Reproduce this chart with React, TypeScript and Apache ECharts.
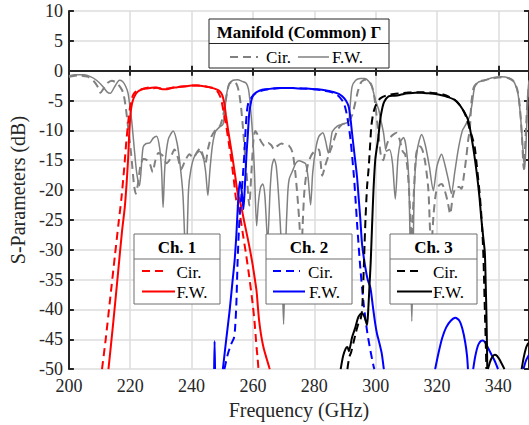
import React, { useEffect, useRef } from "react";
import * as echarts from "echarts";

// ---------- data (frequency GHz, S-parameter dB) ----------
const xRange = [200, 350];
const yRange = [-50, 10];
const xTickStep = 20;
const yTickStep = 5;
const xAxisTitle = "Frequency (GHz)";
const yAxisTitle = "S-Parameters (dB)";
const legendTitles = ["Manifold (Common) \u0393", "Ch. 1", "Ch. 2", "Ch. 3"];
const legendItems = ["Cir.", "F.W."];

const grayFW = [
  [200,-0.9],[202,-0.7],[205,-0.7],[207,-1.0],[209,-1.6],[211,-2.6],[212.5,-3.6],[213.5,-3.8],[214.8,-2.8],[216.5,-1.6],[217.5,-1.8],[218.5,-2.6],[219.3,-3.8],[220,-6.5],[220.5,-8.5],[221.3,-13],[222.1,-17.1],[223.0,-19.3],[223.5,-17],[224.2,-12.8],[225.2,-12.2],[226.4,-12.1],[227.5,-11.3],[228.6,-11],[229.6,-13],[230.2,-16.5],[230.7,-22.9],[231.3,-16],[232.4,-11.5],[234,-10.1],[235.3,-12.2],[236.3,-16],[237.2,-21],[238.2,-33],[239.0,-20],[239.8,-16.5],[241,-14.3],[242.6,-13.5],[243.8,-14.5],[244.6,-17],[245.3,-20.9],[246,-16.5],[246.8,-12.5],[247.8,-10.2],[249,-9.5],[250.2,-9.0],[250.8,-7],[251.3,-4.3],[252.3,-2.2],[253.5,-1.6],[255,-1.5],[256.5,-1.8],[257.8,-2.1],[258.5,-3.0],[258.9,-4.5],[259.5,-8],[260,-11.5],[260.5,-17],[261.2,-26],[261.8,-22],[262.5,-19.5],[263.2,-19],[263.9,-21],[264.8,-28.7],[265.6,-20],[266.2,-16],[266.9,-14.8],[267.6,-16],[268.5,-22],[269.3,-30],[270,-42.5],[270.6,-30],[271.3,-21],[271.8,-18.2],[272.9,-16.8],[274,-15.5],[275,-15.1],[276.2,-15.3],[277.2,-15.6],[278,-18],[278.8,-22.5],[279.5,-17],[280.5,-13],[281.5,-11],[282.8,-10.4],[283.7,-11.8],[284.6,-13.8],[285.3,-12],[285.9,-10.2],[287.5,-9.3],[289,-9.0],[290.2,-8.8],[291.2,-8.5],[291.6,-6.5],[292.3,-2.7],[293.5,-1.6],[295,-1.3],[296.5,-1.3],[297.8,-1.8],[298.8,-2.7],[299.9,-4.9],[300.5,-5.8],[301,-6.5],[301.8,-8.5],[302.6,-10.5],[303.5,-13.5],[304.5,-13.2],[305.5,-15.5],[306.4,-21.5],[307.3,-14.5],[308.2,-11.8],[309.1,-11.2],[310,-13],[310.8,-18],[311.8,-42],[312.6,-20],[313.5,-13.5],[315,-10.7],[316.2,-12.5],[317.5,-16],[318.8,-20.1],[320,-16],[321.5,-14],[322.6,-15.8],[323.8,-18.5],[324.7,-20.6],[325.8,-17],[327,-13],[328.3,-10],[329.1,-9.3],[330.2,-8.2],[330.9,-7.2],[331.6,-5],[332.3,-2.7],[333.5,-1.9],[335.6,-1.6],[338,-1.2],[341,-1.0],[343.5,-1.2],[344.8,-1.6],[346,-3.0],[346.6,-4.5],[347.3,-8],[348,-13],[348.6,-16.5],[349.2,-10],[349.6,-4],[350,-1.6]
];

const grayCir = [
  [200,-1.0],[203,-0.8],[206,-1.0],[208,-1.7],[209.5,-2.8],[210.3,-3.7],[211.3,-3.0],[212.5,-2.1],[214,-1.7],[215.5,-2.0],[216.8,-2.8],[217.7,-3.7],[218.5,-6],[219.3,-9.5],[220.3,-14],[221.2,-19],[221.8,-20.6],[222.5,-19],[223.3,-16],[224.3,-14.8],[225.5,-15],[226.4,-15.6],[227.3,-17],[228.2,-15],[229.2,-13.8],[230.5,-14.2],[231.8,-15.5],[233,-14.8],[234.4,-13.2],[235.5,-14.5],[236.6,-16.5],[237.8,-15.2],[239.3,-14],[240.6,-14.6],[241.8,-13.6],[242.8,-13],[243.7,-14.2],[244.5,-15.5],[245.4,-13],[246.5,-11],[248,-9.8],[249.3,-9.2],[250.3,-7.5],[251.2,-4.8],[252.2,-2.3],[253.5,-1.8],[254.6,-2.2],[255.4,-3.5],[256.1,-6],[256.7,-9.3],[257.4,-14],[258.2,-19],[258.8,-22.6],[259.5,-17],[260.2,-11.5],[260.8,-10.1],[261.8,-11],[262.8,-12],[263.8,-12.6],[265,-12.1],[266,-12.5],[266.9,-13.2],[268,-12.6],[269.3,-12.2],[270.5,-12.4],[271.8,-12.6],[272.9,-13.7],[273.8,-17],[274.5,-21],[275.2,-26],[275.7,-32],[276.2,-26],[276.8,-20],[277.8,-16],[279,-14.2],[280.3,-13.4],[281.5,-13.2],[282.1,-15.5],[282.6,-17.6],[283.5,-16],[284.6,-14.3],[285.8,-12.6],[286.8,-11],[287.6,-9.9],[289,-9.0],[290.2,-8.8],[291.2,-8.5],[292.3,-7.5],[293.3,-5.5],[294.2,-3.5],[295.2,-2.0],[296.5,-1.5],[297.8,-1.7],[298.8,-2.6],[299.6,-4.5],[300.3,-7.5],[301,-11],[301.8,-14.5],[302.5,-15],[303.3,-13],[304.3,-11.5],[305.5,-10.8],[306.9,-10.4],[307.8,-11.5],[308.8,-13.5],[309.6,-14],[310.3,-16],[311,-21],[311.7,-28],[312.4,-21],[313.2,-14],[314.2,-12.6],[315.2,-13.2],[316.2,-15.5],[317.2,-20],[318.1,-30],[318.9,-24],[319.7,-20.4],[320.7,-19.2],[321.6,-19],[322.6,-20.2],[323.5,-22],[324.3,-24],[325.2,-21],[326.3,-19.5],[327.3,-19.5],[328,-19.8],[328.8,-17.5],[329.6,-14.3],[330.2,-11.5],[330.7,-9.9],[331.2,-5.5],[332,-2.8],[333.5,-1.9],[335.5,-1.6],[338,-1.3],[341,-1.1],[343.5,-1.3],[345,-1.8],[346.2,-3.2],[347,-6],[347.7,-11],[348.3,-16.5],[348.9,-11],[349.5,-5],[350,-2.5]
];

const ch1FW = [
  [212.9,-50],[214.5,-42],[216,-34],[217.3,-27],[218.2,-23],[218.8,-19],[219.3,-14.8],[219.8,-9.3],[220.3,-6.3],[220.9,-4.9],[221.7,-4.0],[222.5,-3.5],[223.5,-3.2],[225,-3.0],[226.5,-2.9],[228,-2.8],[229.2,-2.9],[230.5,-3.1],[232,-3.1],[233.5,-2.9],[235,-2.8],[236.5,-2.7],[238.3,-2.6],[240,-2.5],[242,-2.5],[244,-2.6],[246,-2.8],[247.5,-3.0],[248.8,-3.3],[249.7,-3.8],[250.3,-4.6],[250.7,-5.6],[251.2,-7.5],[251.8,-9.6],[252.6,-12.2],[253.4,-14.8],[254.2,-17.6],[255,-20.4],[256.1,-22.6],[257.2,-25.4],[258.3,-28.1],[259.1,-30.2],[259.9,-32.5],[260.7,-35.2],[261.2,-37],[261.6,-39.5],[262,-41.8],[262.6,-44.1],[263.2,-45.8],[263.7,-46.9],[264.5,-48.3],[265.3,-49.7],[265.5,-50]
];

const ch1Cir = [
  [210.8,-50],[212,-45],[213.5,-38],[215,-31],[216.2,-25.5],[217.1,-21.5],[218,-16.5],[218.7,-12],[219.3,-8.8],[219.8,-6.6],[220.4,-5.0],[220.9,-4.1],[221.8,-3.5],[223,-3.2],[224.5,-3.0],[226,-2.8],[227.3,-3.0],[228.5,-2.8],[230,-3.0],[232,-3.0],[234,-2.8],[236,-2.7],[238,-2.6],[240,-2.5],[242,-2.5],[244,-2.6],[246,-2.8],[247.5,-3.0],[248.5,-3.5],[249.3,-4.3],[249.7,-4.9],[250.4,-6.8],[251.3,-9.3],[252.1,-12],[252.9,-14.8],[253.7,-18],[254.5,-21.5],[255.6,-23.7],[256.7,-27.3],[257.8,-30.9],[258.6,-33.8],[259.4,-36.9],[260,-39.5],[260.5,-41.9],[260.9,-44.5],[261.2,-46.5],[261.5,-48],[261.8,-50]
];

const ch2FWSpike = [[247.35,-50],[247.5,-45.3],[247.65,-50]];
const ch2FW = [
  [250.2,-50],[251.3,-45],[252.4,-40.2],[253.3,-35.5],[254,-32],[254.6,-27.5],[255.1,-22.5],[255.7,-18.6],[256.3,-20],[256.9,-23.2],[257.4,-19],[257.9,-14],[258.3,-11],[258.8,-7.1],[259.4,-5.2],[259.9,-4.3],[260.7,-3.8],[261.5,-3.5],[263,-3.2],[264.5,-3.1],[266.4,-3.0],[268.5,-2.9],[270.5,-2.9],[272.9,-2.9],[275,-3.0],[277.5,-3.0],[280,-3.1],[282.5,-3.2],[284.8,-3.4],[286.5,-3.6],[288,-3.9],[289.1,-4.3],[290.3,-5.0],[291.2,-6],[291.8,-8],[292.3,-10.4],[293.1,-14],[293.9,-17.6],[294.5,-21.5],[295,-24.8],[295.6,-29.2],[296.5,-32.5],[297.4,-35],[298.3,-36.4],[299.1,-39.5],[299.9,-42.5],[300.5,-44.2],[301,-45.2],[302,-47.4],[302.6,-49.7],[302.7,-50]
];
const ch2FWLobe1 = [[319.4,-50],[320.5,-47.3],[321.7,-44.8],[323,-43],[324.5,-41.9],[326,-41.4],[327.3,-41.9],[328.3,-43.3],[329.2,-45.5],[329.8,-47.8],[330.1,-50]];
const ch2FWLobe2 = [[331.8,-50],[332.5,-47.8],[333.4,-46],[334.3,-45.3],[335,-45.2],[335.8,-45.6],[336.7,-46.5],[337.7,-47.5],[338.8,-48.6],[339.9,-50]];
const ch2FWLobe3 = [[348.2,-50],[349,-48.6],[350,-47.6]];

const ch2Cir = [
  [250.7,-50],[251.8,-47.5],[252.9,-45.8],[253.8,-44.8],[254.2,-43],[254.6,-39],[255,-32],[255.4,-27],[255.8,-23.5],[256.3,-20.5],[256.8,-17],[257.2,-14],[257.6,-10],[258,-7],[258.5,-5.4],[259.4,-4.6],[260.5,-3.9],[262,-3.5],[264,-3.2],[266.4,-3.0],[270,-2.9],[273,-2.9],[276,-3.0],[280,-3.1],[283,-3.3],[284.8,-3.5],[286.5,-3.8],[288,-4.3],[289.6,-5.4],[290.7,-7.6],[291.8,-11.5],[292.9,-17.6],[293.5,-22],[294,-26],[295,-33],[296.1,-39.1],[297.2,-43.6],[298.3,-46.9],[299.4,-49.7],[299.6,-50]
];

const ch3FW = [
  [288.6,-50],[289.4,-47.8],[290.2,-46.6],[290.8,-46.3],[291.3,-47],[291.8,-46],[292.3,-44.7],[293.4,-43],[294.2,-41.5],[295,-40.8],[295.6,-40.7],[296.4,-41.3],[297.2,-42.6],[297.6,-40],[298,-36],[298.4,-32],[298.8,-26.5],[299.3,-20],[299.9,-14.8],[300.8,-11.5],[301.5,-8.2],[302.2,-6.2],[302.8,-5.2],[304.2,-4.3],[306,-4.2],[307.5,-4.1],[309.2,-3.9],[310.7,-3.8],[313,-3.7],[315,-3.7],[317.2,-3.8],[319.5,-3.9],[321.5,-4.1],[323.5,-4.4],[325.8,-4.9],[327.3,-5.7],[328.5,-6.6],[329.4,-7.4],[330.1,-8.2],[330.7,-9.5],[331.2,-11],[332,-13.5],[332.8,-16.5],[333.4,-19],[333.9,-21.5],[334.4,-24.5],[335,-27.5],[335.6,-30.5],[335.9,-36],[336.1,-40.2],[336.3,-46],[336.4,-50]
];
const ch3FWLobe1 = [[336.6,-50],[337.3,-48.8],[338,-48],[338.8,-47.6],[339.6,-47.8],[340.4,-48.4],[341.2,-49.2],[342,-50]];
const ch3FWLobe2 = [[347.6,-50],[348.3,-48],[349,-46.5],[349.6,-45.8],[350,-45.6]];

const ch3Cir = [
  [290.8,-50],[291.4,-48],[292,-47.2],[292.8,-45.5],[293.5,-44],[294.3,-42.5],[295,-41.8],[295.5,-40.5],[295.8,-38],[296.1,-33.6],[296.4,-29],[296.7,-24.8],[297.2,-19.5],[297.7,-16.5],[298.2,-12.5],[298.6,-9.3],[299.2,-7.2],[299.9,-6],[301,-4.9],[302.3,-4.4],[303.7,-4.1],[306,-3.9],[308,-3.8],[310,-3.7],[312,-3.6],[314,-3.6],[316,-3.6],[318,-3.7],[320,-3.8],[322,-4.0],[324,-4.4],[326,-5.0],[327.5,-5.8],[328.7,-6.8],[329.7,-8],[330.5,-9.5],[331.4,-11],[332.3,-12.8],[333,-16],[333.9,-20.5],[334.5,-24.5],[335,-29.2],[335.3,-34],[335.6,-40.2],[335.9,-45.5],[336.1,-50]
];

// ---------- styling ----------
const GRAY = "#808080";
const RED = "#ff0000";
const BLUE = "#0000ff";
const BLACK = "#000000";
const AXIS = "#262626";
const FONT = "Liberation Serif";

function lineSeries(data: number[][], color: string, dashed: boolean, width = 2, z = 2) {
  return {
    type: "line",
    data,
    xAxisIndex: 0,
    yAxisIndex: 0,
    showSymbol: false,
    symbol: "none",
    smooth: 0.25,
    silent: true,
    z,
    clip: true,
    lineStyle: { color, width, type: dashed ? [8, 5] : "solid" },
  };
}

function txt(text: string, x: number, y: number, bold: boolean, align: string) {
  return {
    type: "text",
    x,
    y,
    z: 101,
    style: {
      text,
      fontFamily: FONT,
      fontSize: 17,
      fontWeight: bold ? "bold" : "normal",
      fill: "#000",
      align,
      verticalAlign: "middle",
    },
  };
}

function legendBox(
  x: number, y: number, w: number, h: number, sep: number, title: string,
  color: string, border: string, dashFrom: number, dashTo: number, solidFrom: number, solidTo: number,
  textX1: number, textX2: number, row1: number, row2: number, lw1: number, lw2: number
) {
  return [
    { type: "rect", shape: { x, y, width: w, height: h }, style: { fill: "#ffffff", stroke: border, lineWidth: 1 }, z: 100 },
    { type: "line", shape: { x1: x, y1: sep, x2: x + w, y2: sep }, style: { stroke: border, lineWidth: 1 }, z: 101 },
    txt(title, x + w / 2, (y + sep) / 2 + 1, true, "center"),
    { type: "line", shape: { x1: dashFrom, y1: row1, x2: dashTo, y2: row1 }, style: { stroke: color, lineWidth: lw1, lineDash: [8, 5] }, z: 101 },
    txt(legendItems[0], textX1, row1 + 1, false, "left"),
    { type: "line", shape: { x1: solidFrom, y1: row2, x2: solidTo, y2: row2 }, style: { stroke: color, lineWidth: lw2 }, z: 101 },
    txt(legendItems[1], textX2, row2 + 1, false, "left"),
  ];
}

export default function App() {
  const ref = useRef<HTMLDivElement>(null);
  useEffect(() => {
    if (!ref.current) return;
    const chart = echarts.init(ref.current, undefined, { renderer: "svg" });

    const manifold = [
      { type: "rect", shape: { x: 209, y: 19, width: 180, height: 49 }, style: { fill: "#ffffff", stroke: AXIS, lineWidth: 1 }, z: 100 },
      { type: "line", shape: { x1: 209, y1: 43.5, x2: 389, y2: 43.5 }, style: { stroke: AXIS, lineWidth: 1 }, z: 101 },
      txt(legendTitles[0], 299, 32, true, "center"),
      { type: "line", shape: { x1: 230, y1: 57, x2: 258, y2: 57 }, style: { stroke: GRAY, lineWidth: 2, lineDash: [8, 5] }, z: 101 },
      txt(legendItems[0], 266, 57, false, "left"),
      { type: "line", shape: { x1: 298, y1: 57, x2: 329, y2: 57 }, style: { stroke: GRAY, lineWidth: 1.5 }, z: 101 },
      txt(legendItems[1], 332, 57, false, "left"),
    ];

    const graphic = [
      ...manifold,
      ...legendBox(134, 234, 86, 70, 259, legendTitles[1], RED, "#6e6e6e", 142, 167, 142, 175, 176.5, 176.5, 271, 291.5, 2, 2),
      ...legendBox(266, 234, 86, 70, 259, legendTitles[2], BLUE, "#6e6e6e", 273, 300, 273, 305, 308, 309, 271, 291.5, 2, 2),
      ...legendBox(390, 234, 87, 70, 259, legendTitles[3], BLACK, "#6e6e6e", 397, 423, 397, 432, 433, 433, 271, 291.5, 2, 2),
    ];

    const baseX = { type: "value", min: xRange[0], max: xRange[1], interval: xTickStep };
    const baseY = { type: "value", min: yRange[0], max: yRange[1], interval: yTickStep };

    chart.setOption({
      animation: false,
      backgroundColor: "#ffffff",
      grid: { left: 68, top: 11, width: 462, height: 360, containLabel: false },
      xAxis: [
        {
          ...baseX,
          position: "bottom",
          name: xAxisTitle,
          nameLocation: "middle",
          nameGap: 27,
          nameTextStyle: { fontFamily: FONT, fontSize: 20, color: AXIS },
          axisLine: { show: true, lineStyle: { color: AXIS, width: 2 } },
          axisTick: { show: true, inside: true, length: 5, lineStyle: { color: AXIS, width: 2 } },
          axisLabel: { show: true, fontFamily: FONT, fontSize: 18, color: AXIS, margin: 8, showMaxLabel: false },
          splitLine: { show: true, lineStyle: { color: "#dcdcdc", width: 1.5 } },
        },
        {
          ...baseX,
          position: "top",
          axisLine: { show: true, lineStyle: { color: AXIS, width: 2 } },
          axisTick: { show: true, inside: true, length: 5, lineStyle: { color: AXIS, width: 2 } },
          axisLabel: { show: false },
          splitLine: { show: false },
        },
      ],
      yAxis: [
        {
          ...baseY,
          position: "left",
          name: yAxisTitle,
          nameLocation: "middle",
          nameGap: 31,
          nameTextStyle: { fontFamily: FONT, fontSize: 20, color: AXIS },
          axisLine: { show: true, lineStyle: { color: AXIS, width: 2 } },
          axisTick: { show: true, inside: true, length: 5, lineStyle: { color: AXIS, width: 2 } },
          axisLabel: { show: true, fontFamily: FONT, fontSize: 18, color: AXIS, margin: 6 },
          splitLine: { show: true, lineStyle: { color: "#dcdcdc", width: 1.5 } },
        },
        {
          ...baseY,
          position: "right",
          axisLine: { show: true, lineStyle: { color: AXIS, width: 2 } },
          axisTick: { show: true, inside: true, length: 5, lineStyle: { color: AXIS, width: 2 } },
          axisLabel: { show: false },
          splitLine: { show: false },
        },
      ],
      series: [
        lineSeries(grayCir, GRAY, true, 2, 2),
        lineSeries(grayFW, GRAY, false, 1.5, 2),
        lineSeries(ch1Cir, RED, true, 2, 3),
        lineSeries(ch1FW, RED, false, 2, 3),
        lineSeries(ch2Cir, BLUE, true, 2, 3),
        lineSeries(ch2FW, BLUE, false, 2, 3),
        lineSeries(ch2FWSpike, BLUE, false, 2, 3),
        lineSeries(ch2FWLobe1, BLUE, false, 2, 3),
        lineSeries(ch2FWLobe2, BLUE, false, 2, 3),
        lineSeries(ch2FWLobe3, BLUE, false, 2, 3),
        lineSeries(ch3Cir, BLACK, true, 2, 3),
        lineSeries(ch3FW, BLACK, false, 2, 3),
        lineSeries(ch3FWLobe1, BLACK, false, 2, 3),
        lineSeries(ch3FWLobe2, BLACK, false, 2, 3),
      ],
      graphic,
    });
    return () => chart.dispose();
  }, []);
  return (
    <div
      ref={ref}
      style={{ position: "fixed", left: 0, top: 0, width: 529, height: 425, background: "#fff" }}
    />
  );
}
